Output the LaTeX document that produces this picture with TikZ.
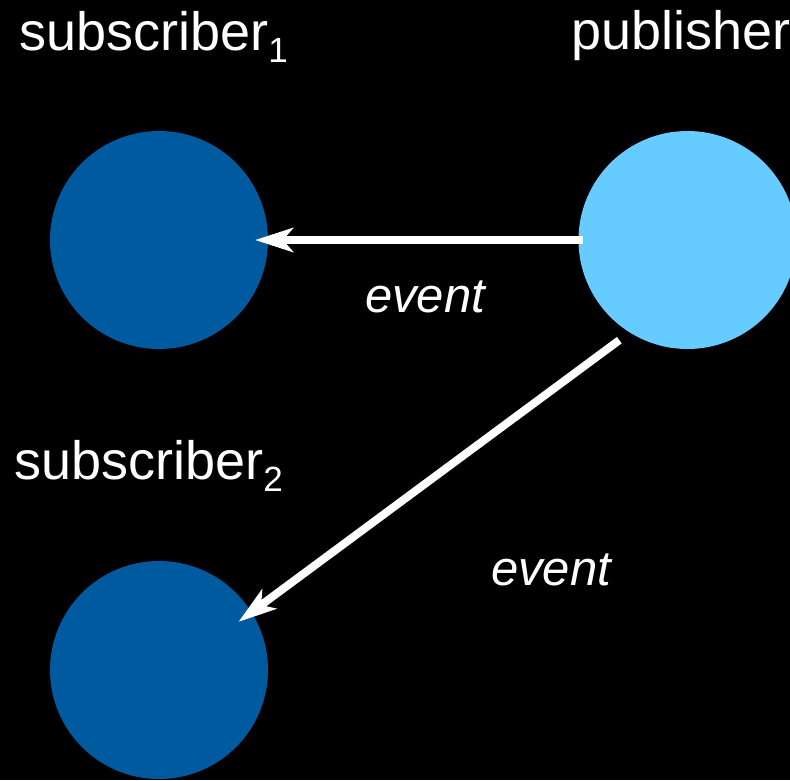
\documentclass[tikz,border=0pt]{standalone}
\usepackage{fontspec}
\setmainfont{Liberation Sans}
\usetikzlibrary{arrows.meta,positioning}
\definecolor{subblue}{RGB}{0,90,160}
\definecolor{pubblue}{RGB}{102,204,255}
\newcommand{\lowidx}[1]{\raisebox{-0.23em}{\fontsize{35}{35}\selectfont #1}}

\begin{document}
\begin{tikzpicture}
			[x=1pt,y=-1pt,
			node/.style={shape=circle,minimum size=218pt,inner sep=0pt,outer sep=0pt},
			label/.style={text=white,inner sep=0pt,anchor=base west,font=\fontsize{54}{60}\selectfont},
			msg/.style={text=white,inner sep=0pt,anchor=base west,font=\fontsize{49}{55}\selectfont\itshape},
			arc/.style={-{Stealth[length=38pt,width=24pt,inset=10pt]},draw=white,fill=white,line width=8pt}]
			\fill[black] (0,0) rectangle (790,780);
			\useasboundingbox (0,0) rectangle (790,780);
			\node (sub1) [node,fill=subblue] at (159,240) {};
			\node (pub) [node,fill=pubblue] at (687.5,240) {};
			\node (sub2) [node,fill=subblue] at (159,670) {};
			
			\node (t1) [label] at (19,50) {subscriber\lowidx{1}};
			\node (t2) [label] at (571,49) {publisher};
			\node (t3) [label] at (14,479) {subscriber\lowidx{2}};
			\node (e1) [msg] at (365,312) {event};
			\node (e2) [msg] at (491,585) {event};
			
			\draw [arc,shorten <=-4pt,shorten >=-13pt] (pub.west) to (sub1.east);
			\draw [arc,shorten <=13pt,shorten >=-16pt] (pub.238) to (sub2.32);
			\end{tikzpicture}
\end{document}
